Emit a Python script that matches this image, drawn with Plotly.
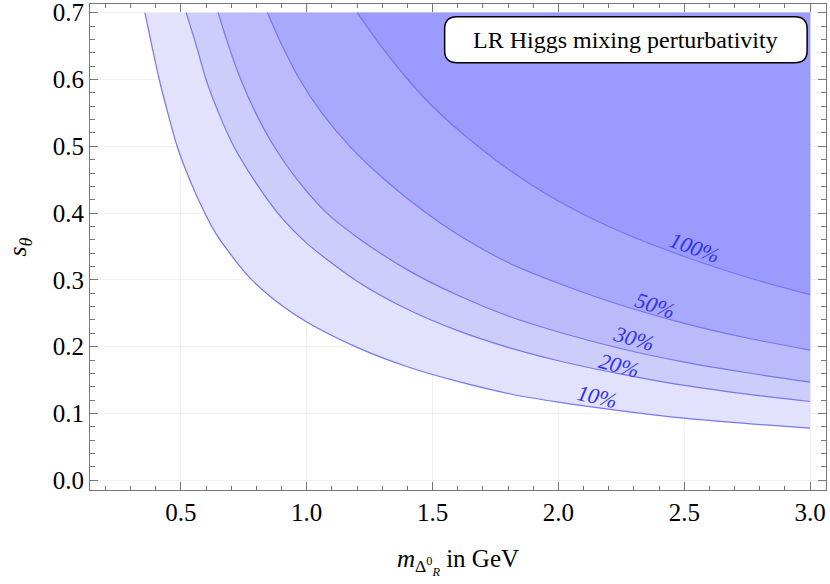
import plotly.graph_objects as go

# contour levels, lightest to darkest
levels = ["10%", "20%", "30%", "50%", "100%"]

m10 = [0.357, 0.385, 0.414, 0.448, 0.485, 0.535, 0.595, 0.638, 0.688, 0.774, 0.9, 1.0, 1.2, 1.4, 1.6, 1.8, 2.0, 2.25, 2.5, 2.75, 3.0]
s10 = [0.70, 0.65, 0.60, 0.55, 0.50, 0.45, 0.40, 0.37, 0.343, 0.303, 0.262, 0.237, 0.199, 0.170, 0.148, 0.130, 0.117, 0.104, 0.093, 0.085, 0.078]

m20 = [0.521, 0.562, 0.600, 0.65, 0.71, 0.79, 0.885, 1.0, 1.2, 1.4, 1.6, 1.8, 2.0, 2.25, 2.5, 2.75, 3.0]
s20 = [0.70, 0.65, 0.60, 0.55, 0.50, 0.45, 0.40, 0.355, 0.298, 0.256, 0.224, 0.199, 0.179, 0.159, 0.142, 0.129, 0.118]

m30 = [0.648, 0.69, 0.738, 0.797, 0.87, 0.962, 1.08, 1.2, 1.4, 1.6, 1.8, 2.0, 2.25, 2.5, 2.75, 3.0]
s30 = [0.70, 0.65, 0.60, 0.55, 0.50, 0.45, 0.40, 0.364, 0.315, 0.277, 0.246, 0.222, 0.197, 0.177, 0.161, 0.147]

m50 = [0.844, 0.903, 0.972, 1.06, 1.171, 1.31, 1.475, 1.6, 1.8, 2.0, 2.25, 2.5, 2.75, 3.0]
s50 = [0.70, 0.65, 0.60, 0.55, 0.50, 0.45, 0.40, 0.368, 0.326, 0.295, 0.262, 0.235, 0.213, 0.195]

m100 = [1.201, 1.295, 1.402, 1.488, 1.607, 1.8, 2.0, 2.229, 2.5, 2.75, 3.0]
s100 = [0.70, 0.65, 0.60, 0.564, 0.523, 0.466, 0.418, 0.375, 0.335, 0.304, 0.278]

# label positions
label_m = [2.152, 2.242, 2.30, 2.385, 2.54]
label_s = [0.125, 0.172, 0.212, 0.262, 0.348]
label_angle = [13, 15, 16, 18, 20]

s_top = 0.7
m_right = 3.0

curves = [(m10, s10), (m20, s20), (m30, s30), (m50, s50), (m100, s100)]
fills = ["#e2e2fd", "#cdcdfc", "#bbbbfc", "#a8a8fc", "#9b9bfd"]
line_col = "#7676f2"
serif = "Liberation Serif"

fig = go.Figure()

# each region: invisible top edge, then the contour filled up to it
for (xs, ys), col in zip(curves, fills):
    fig.add_trace(go.Scatter(
        x=[xs[0], m_right], y=[s_top, s_top], mode="lines",
        line=dict(width=0), hoverinfo="skip", showlegend=False))
    fig.add_trace(go.Scatter(
        x=xs, y=ys, mode="lines", fill="tonexty", fillcolor=col,
        line=dict(color=line_col, width=1.2, shape="spline", smoothing=0.8),
        hoverinfo="skip", showlegend=False))

for lab, xm, ys_, ang in zip(levels, label_m, label_s, label_angle):
    fig.add_annotation(x=xm, y=ys_, text="<i>" + lab + "</i>", showarrow=False,
                       textangle=ang, font=dict(family=serif, size=22, color="#3232ee"))

# rounded box with title
x0, x1, y0, y1 = 1.548, 2.988, 0.625, 0.694
rx, ry = 0.05, 0.018
path = (f"M {x0+rx},{y1} L {x1-rx},{y1} Q {x1},{y1} {x1},{y1-ry} L {x1},{y0+ry} "
        f"Q {x1},{y0} {x1-rx},{y0} L {x0+rx},{y0} Q {x0},{y0} {x0},{y0+ry} "
        f"L {x0},{y1-ry} Q {x0},{y1} {x0+rx},{y1} Z")
fig.add_shape(type="path", path=path, xref="x", yref="y",
              fillcolor="white", line=dict(color="black", width=1.5), layer="above")
fig.add_annotation(x=(x0 + x1) / 2, y=(y0 + y1) / 2, text="LR Higgs mixing perturbativity",
                   showarrow=False, font=dict(family=serif, size=24, color="black"))

axis_common = dict(
    showline=True, linecolor="#777777", linewidth=1.2, mirror="allticks",
    ticks="inside", ticklen=8, tickcolor="#777777", tickwidth=1,
    showgrid=True, gridcolor="rgba(0,0,0,0.06)", gridwidth=1,
    zeroline=False, layer="above traces", automargin=False,
    ticklabeloverflow="allow",
    tickfont=dict(family=serif, size=25, color="black"),
    tickformat=".1f",
)

fig.update_xaxes(
    range=[0.139, 3.063], tick0=0.5, dtick=0.5,
    minor=dict(dtick=0.1, ticklen=4, ticks="inside", tickcolor="#777777", showgrid=False),
    title=dict(text="<i>m</i><sub>Δ<sup>0</sup><sub><i>R</i></sub></sub> in GeV",
               font=dict(family=serif, size=25, color="black"), standoff=24),
    **axis_common)
fig.update_yaxes(
    range=[-0.0145, 0.713], tick0=0, dtick=0.1,
    minor=dict(dtick=0.02, ticklen=5, ticks="inside", tickcolor="#777777", showgrid=False),
    title=dict(text="<i>s<sub>θ</sub></i>",
               font=dict(family=serif, size=26, color="black"), standoff=18),
    **axis_common)

fig.update_layout(
    width=830, height=584,
    margin=dict(l=90, r=4, t=4, b=94),
    plot_bgcolor="white", paper_bgcolor="white",
)

# drop the browser's default page margin so the figure sits at the window corner
fig.write_html("out.html", config={"displayModeBar": False},
               post_script="document.body.style.margin='0';")
